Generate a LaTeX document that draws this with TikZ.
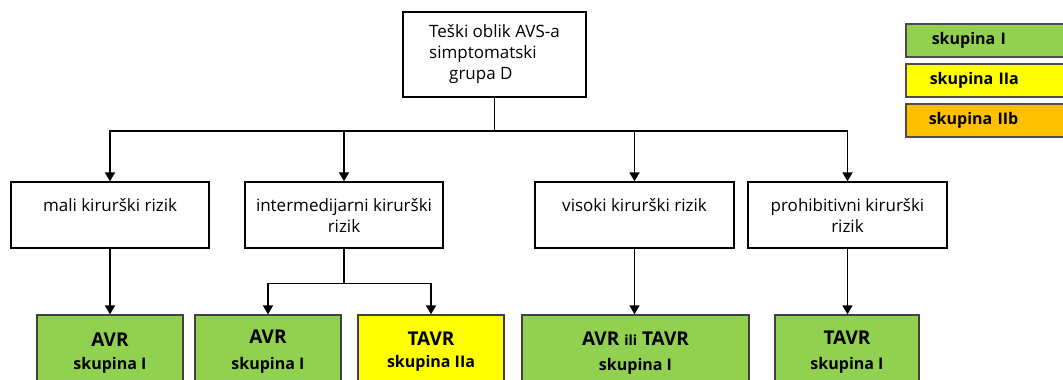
\documentclass[tikz,border=0pt]{standalone}
\usepackage{fontspec}
\setmainfont{Open Sans}
\usetikzlibrary{arrows.meta,calc}
\definecolor{gI}{HTML}{92D050}
\definecolor{gIIa}{HTML}{FFFF00}
\definecolor{gIIb}{HTML}{FFC000}
\begin{document}
\begin{tikzpicture}[x=1pt,y=-1pt,
  box/.style={draw=black,line width=1.4pt,rectangle,inner sep=0pt,align=center,
    font=\fontsize{17}{21}\selectfont},
  res/.style={draw=black!75,line width=1.3pt,rectangle,inner sep=0pt,minimum height=85pt},
  leg/.style={draw=black!70,line width=1.5pt,rectangle,anchor=north west,inner ysep=0pt,
    inner xsep=26pt,text width=113pt,align=left,minimum height=33pt,
    font=\fontsize{16}{19}\selectfont\bfseries},
  conn/.style={line width=1.8pt},
  arr/.style={conn,-{Triangle[width=10pt,length=9pt]}},
  conb/.style={line width=1.4pt},
  arb/.style={conb,-{Triangle[width=10pt,length=9pt]}},
  big/.style={font=\fontsize{19}{22}\selectfont\bfseries},
  small/.style={font=\fontsize{16}{19}\selectfont\bfseries},
]
\useasboundingbox (0,0) rectangle (1063,380);
% top
\node[box,minimum width=183pt,minimum height=85pt,align=left] (top) at (494.5,54.5)
  {Teški oblik AVS-a\\simptomatski\\\hspace*{20pt}grupa D};
% middle
\node[box,minimum width=198pt,minimum height=66pt] (m1) at (110,215) {mali kirurški rizik\\\mbox{}};
\node[box,minimum width=198pt,minimum height=66pt] (m2) at (344,215) {intermedijarni kirurški\\rizik};
\node[box,minimum width=199pt,minimum height=66pt] (m3) at (634.5,215) {visoki kirurški rizik\\\mbox{}};
\node[box,minimum width=199pt,minimum height=66pt] (m4) at (847.5,215) {prohibitivni kirurški\\rizik};
% bottom
\node[res,fill=gI,minimum width=146pt] (b1) at (110,357.5) {};
\node[res,fill=gI,minimum width=146pt] (b2) at (268,357.5) {};
\node[res,fill=gIIa,minimum width=146pt] (b3) at (431,357.5) {};
\node[res,fill=gI,minimum width=227pt] (b4) at (635.5,357.5) {};
\node[res,fill=gI,minimum width=144pt] (b5) at (847,357.5) {};
\node[big] (b1a) at ($(b1.north)+(0,25)$) {AVR};
\node[small] (b1b) at ($(b1.north)+(0,51)$) {skupina I};
\node[big] (b2a) at ($(b2.north)+(0,22)$) {AVR};
\node[small] (b2b) at ($(b2.north)+(0,51)$) {skupina I};
\node[big] (b3a) at ($(b3.north)+(0,24)$) {TAVR};
\node[small] (b3b) at ($(b3.north)+(0,49)$) {skupina IIa};
\node[big] (b4a) at ($(b4.north)+(0,24)$) {AVR {\fontsize{14}{16}\selectfont ili} TAVR};
\node[small] (b4b) at ($(b4.north)+(0,52)$) {skupina I};
\node[big] (b5a) at ($(b5.north)+(0,23)$) {TAVR};
\node[small] (b5b) at ($(b5.north)+(0,51)$) {skupina I};
% legend
\node[leg,fill=gI] (l1) at (905,23) {skupina I};
\node[leg,fill=gIIa] (l2) at (905,63) {\hspace*{-2pt}skupina IIa};
\node[leg,fill=gIIb] (l3) at (905,103) {\hspace*{-3pt}skupina IIb};
% connectors
\coordinate (j) at ($(top.south)+(0,33)$);
\draw[conn] (top.south) -- (j);
\draw[arr] (j) -| (m1.north);
\draw[arr] (j) -| (m2.north);
\draw[arr] (j) -| (m3.north);
\draw[arr] (j) -| (m4.north);
\draw[arb] (m1.south) -- (b1.north);
\coordinate (j2) at ($(m2.south)+(0,35)$);
\draw[conb] (m2.south) -- (j2);
\draw[arb] (j2) -| (b2.north);
\draw[arb] (j2) -| (b3.north);
\draw[arb] (m3.south) -- (m3.south |- b4.north);
\draw[arb] (m4.south) -- (m4.south |- b5.north);
\end{tikzpicture}
\end{document}
